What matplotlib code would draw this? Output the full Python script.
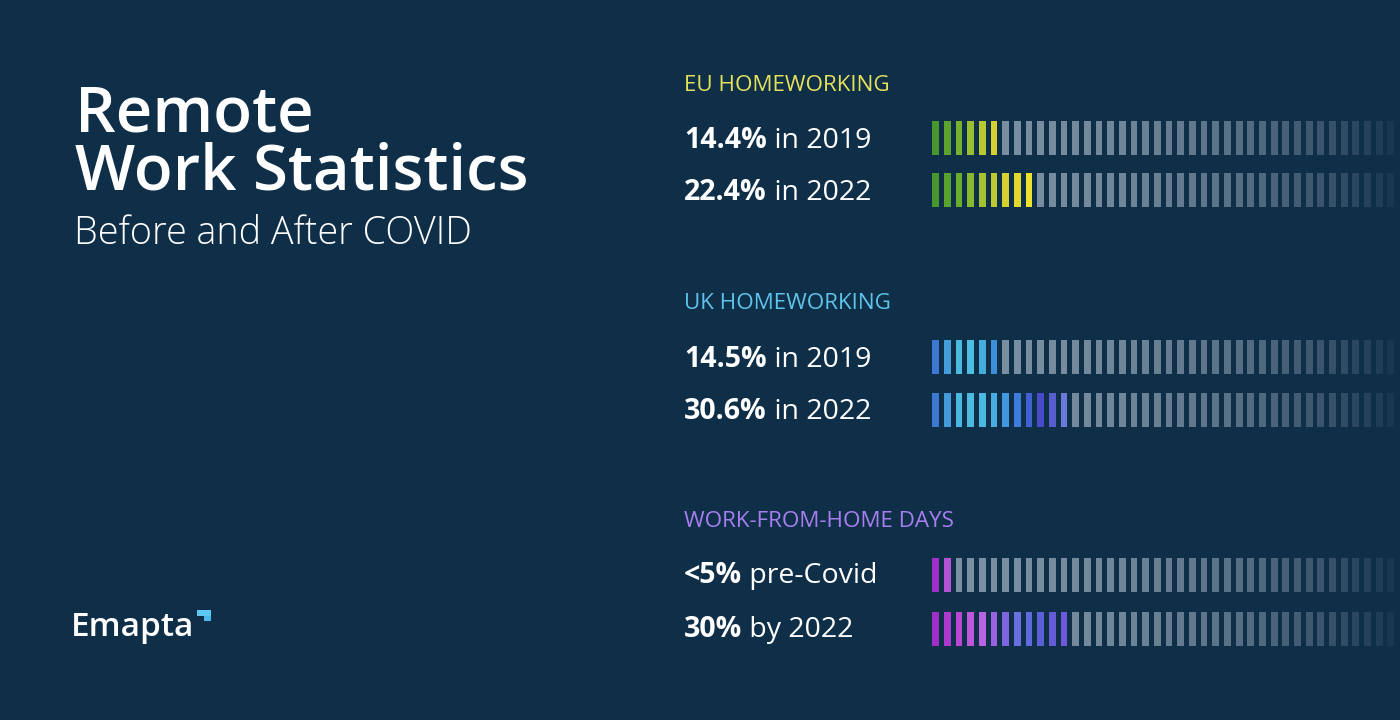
import matplotlib
matplotlib.use('Agg')
import matplotlib.pyplot as plt
import numpy as np
from matplotlib.colors import LinearSegmentedColormap, to_rgba
from matplotlib.patches import Rectangle

# ---- data ----
section_titles = ['EU HOMEWORKING', 'UK HOMEWORKING', 'WORK-FROM-HOME DAYS']
row_values = [[14.4, 22.4], [14.5, 30.6], [5.0, 30.0]]
row_bold = [['14.4%', '22.4%'], ['14.5%', '30.6%'], ['<5%', '30%']]
row_rest = [[' in 2019', ' in 2022'], [' in 2019', ' in 2022'], [' pre-Covid', ' by 2022']]
n_ticks = 40  # each tick = 2.5%

# ---- style ----
W, H = 1400, 720
bg = '#0f2e48'
header_colors = ['#e3e05a', '#5ec3ea', '#a77ef0']
row_cmaps = [
    [['#4a962e', '#6aae2e', '#a4c232', '#d6d030'],
     ['#4a962e', '#6aae2e', '#a4c232', '#d6d030', '#ece22c']],
    [['#3b78d2', '#4ab8e0', '#4bc0e2', '#3c8ed8'],
     ['#3b78d2', '#4ab8e0', '#4bbde2', '#45a6e0', '#3b72d8', '#4a46c8', '#6a7ad8']],
    [['#a02ec8', '#b452d6'],
     ['#a02ec8', '#b844d4', '#c462e2', '#8a62e2', '#6272e0', '#5a5ed6', '#6e5ad6']],
]
header_y = [91, 309, 527]          # baselines (px from top)
row_base_y = [[148, 200], [367, 419], [583, 637]]
bar_center_y = [[137.5, 190], [356.5, 409.5], [575, 628.5]]
bar_h_px = 34
bar_x0 = 935.7     # centre of first tick
bar_step = 11.67   # px between ticks
bar_w = 0.58       # in tick units
gray = '#a9bac8'

plt.rcParams['font.family'] = ['Open Sans', 'DejaVu Sans']

fig = plt.figure(figsize=(W / 100, H / 100), dpi=100, facecolor=bg)


def fx(x):
    return x / W


def fy(y):
    return 1 - y / H


# title block
fig.text(fx(75), fy(132), 'Remote', fontsize=45.8, fontweight='semibold', color='white', va='baseline')
fig.text(fx(75), fy(190), 'Work Statistics', fontsize=45.8, fontweight='semibold', color='white', va='baseline')
fig.text(fx(74), fy(244), 'Before and After COVID', fontsize=27.2, fontweight='light', color='white', va='baseline')

# logo
t_logo = fig.text(fx(71), fy(636), 'Emapta', fontsize=24, fontweight='semibold', color='white', va='baseline')
fig.patches.append(Rectangle((fx(197), fy(616)), 14 / W, 6 / H, transform=fig.transFigure,
                             facecolor='#5ec8f2', edgecolor='none'))
fig.patches.append(Rectangle((fx(204), fy(621)), 7 / W, 5 / H, transform=fig.transFigure,
                             facecolor='#4fb8ea', edgecolor='none'))

renderer = fig.canvas.get_renderer()

# labels
for g in range(3):
    fig.text(fx(684), fy(header_y[g]), section_titles[g], fontsize=16.1, color=header_colors[g],
             va='baseline')
    for r in range(2):
        t = fig.text(fx(684), fy(row_base_y[g][r]), row_bold[g][r], fontsize=20.5,
                     fontweight='bold', color='white', va='baseline')
        bb = t.get_window_extent(renderer)
        fig.text(bb.x1 / W, fy(row_base_y[g][r]), row_rest[g][r], fontsize=20.5,
                 color='white', va='baseline')

# tick bars: one axes per section, x in tick units, y in rows
for g in range(3):
    c0, c1 = bar_center_y[g]
    row_gap = c1 - c0
    pad = 0.6
    top_px = c0 - pad * row_gap
    bot_px = c1 + pad * row_gap
    left_px = bar_x0 - 0.5 * bar_step
    ax = fig.add_axes([fx(left_px), fy(bot_px), (W - left_px) / W, (bot_px - top_px) / H])
    ax.set_xlim(-0.5, (W - left_px) / bar_step - 0.5)
    ax.set_ylim(1 + pad, -pad)
    ax.set_axis_off()
    h = bar_h_px / row_gap
    idx = np.arange(n_ticks)
    for r in range(2):
        n_on = int(round(row_values[g][r] / 100 * n_ticks))
        cmap = LinearSegmentedColormap.from_list('c', row_cmaps[g][r])
        colors = []
        for i in idx:
            if i < n_on:
                colors.append(cmap(i / max(n_on - 1, 1)))
            else:
                a = 0.07 + 0.63 * (1 - (i / (n_ticks - 1)) ** 2.4)
                colors.append(to_rgba(gray, a))
        ax.bar(idx, h, bottom=r - h / 2, width=bar_w, color=colors, edgecolor='none')

fig.savefig('out.png', dpi=100, facecolor=bg)
